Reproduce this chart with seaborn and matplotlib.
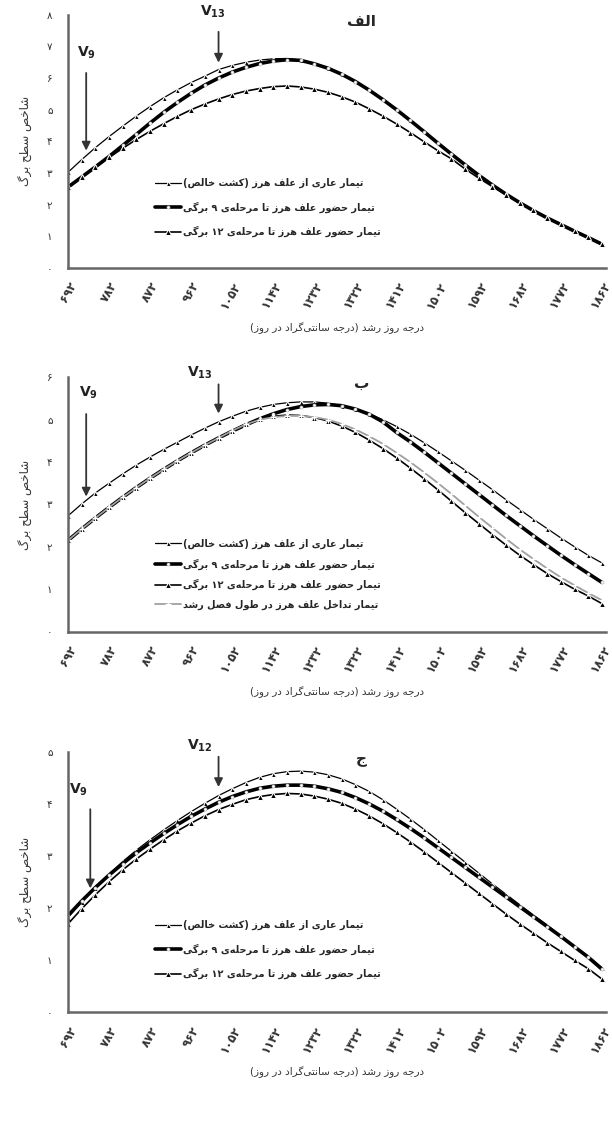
import re
import numpy as np
import pandas as pd
import seaborn as sns
import matplotlib
matplotlib.use('Agg')
import matplotlib.pyplot as plt
from matplotlib.font_manager import FontProperties

sns.set_style('white')
plt.rcParams['font.family'] = ['DejaVu Sans']

# growing degree days (every 30, labels every 90)
gdd = np.arange(692, 1863, 30)

# panel الف
a_free = [3.02, 3.42, 3.80, 4.15, 4.48, 4.80, 5.10, 5.38, 5.63, 5.86, 6.06, 6.27, 6.40, 6.50, 6.57, 6.61,
          6.62, 6.57, 6.47, 6.33, 6.14, 5.91, 5.64, 5.34, 5.02, 4.68, 4.33, 3.97, 3.62, 3.28,
          2.95, 2.64, 2.35, 2.08, 1.83, 1.60, 1.38, 1.17, 0.97, 0.76]
a_v9 = [2.55, 2.87, 3.19, 3.52, 3.87, 4.22, 4.58, 4.92, 5.23, 5.52, 5.78, 6.00, 6.19, 6.34, 6.46, 6.54,
        6.58, 6.56, 6.45, 6.31, 6.12, 5.89, 5.62, 5.32, 5.00, 4.66, 4.31, 3.95, 3.60, 3.26,
        2.93, 2.62, 2.33, 2.06, 1.81, 1.58, 1.37, 1.16, 0.96, 0.75]
a_v12 = [2.55, 2.87, 3.18, 3.49, 3.78, 4.06, 4.32, 4.56, 4.79, 5.00, 5.18, 5.34, 5.48, 5.59, 5.67, 5.73,
         5.75, 5.72, 5.65, 5.55, 5.41, 5.24, 5.03, 4.80, 4.55, 4.28, 3.99, 3.71, 3.45, 3.13,
         2.84, 2.57, 2.31, 2.06, 1.82, 1.59, 1.38, 1.17, 0.97, 0.76]

# panel ب
b_free = [2.73, 3.01, 3.27, 3.50, 3.72, 3.93, 4.12, 4.30, 4.47, 4.64, 4.80, 4.95, 5.08, 5.20, 5.29, 5.36,
          5.40, 5.42, 5.42, 5.39, 5.33, 5.25, 5.14, 5.00, 4.84, 4.66, 4.46, 4.25, 4.03, 3.81,
          3.58, 3.35, 3.11, 2.88, 2.65, 2.43, 2.21, 2.00, 1.80, 1.62]
b_v9 = [2.15, 2.42, 2.68, 2.93, 3.17, 3.40, 3.62, 3.83, 4.03, 4.22, 4.40, 4.57, 4.73, 4.88, 5.02, 5.14,
        5.24, 5.31, 5.35, 5.36, 5.33, 5.25, 5.13, 4.95, 4.70, 4.48, 4.24, 3.99, 3.74, 3.49,
        3.24, 2.99, 2.74, 2.50, 2.26, 2.03, 1.80, 1.58, 1.37, 1.16]
b_v12 = [2.15, 2.42, 2.68, 2.93, 3.17, 3.40, 3.62, 3.83, 4.03, 4.22, 4.40, 4.57, 4.74, 4.90, 5.01, 5.08,
         5.11, 5.10, 5.05, 4.97, 4.85, 4.70, 4.52, 4.32, 4.10, 3.86, 3.61, 3.35, 3.08, 2.81,
         2.55, 2.29, 2.04, 1.80, 1.58, 1.37, 1.18, 1.00, 0.84, 0.66]
b_weedy = [2.15, 2.42, 2.68, 2.93, 3.17, 3.40, 3.62, 3.83, 4.03, 4.22, 4.40, 4.57, 4.74, 4.89, 5.00, 5.06,
           5.09, 5.09, 5.06, 5.00, 4.90, 4.77, 4.61, 4.43, 4.22, 4.00, 3.76, 3.51, 3.25, 2.98,
           2.71, 2.45, 2.19, 1.94, 1.71, 1.49, 1.28, 1.09, 0.91, 0.74]

# panel ج
c_free = [1.82, 2.12, 2.40, 2.66, 2.90, 3.12, 3.32, 3.51, 3.69, 3.86, 4.02, 4.17, 4.30, 4.42, 4.52, 4.59,
          4.63, 4.64, 4.62, 4.57, 4.49, 4.38, 4.25, 4.09, 3.91, 3.72, 3.52, 3.31, 3.10, 2.89,
          2.68, 2.47, 2.27, 2.07, 1.87, 1.68, 1.47, 1.27, 1.08, 0.86]
c_v9 = [1.86, 2.14, 2.40, 2.64, 2.86, 3.07, 3.26, 3.44, 3.61, 3.77, 3.91, 4.04, 4.15, 4.24, 4.31, 4.35,
        4.37, 4.37, 4.35, 4.30, 4.23, 4.13, 4.01, 3.87, 3.71, 3.54, 3.36, 3.17, 2.98, 2.79,
        2.60, 2.41, 2.22, 2.03, 1.84, 1.65, 1.46, 1.26, 1.06, 0.83]
c_v12 = [1.70, 1.99, 2.26, 2.51, 2.74, 2.95, 3.14, 3.32, 3.49, 3.64, 3.78, 3.90, 4.00, 4.09, 4.15, 4.19,
         4.21, 4.20, 4.16, 4.10, 4.02, 3.91, 3.78, 3.63, 3.46, 3.28, 3.09, 2.89, 2.69, 2.49,
         2.29, 2.09, 1.89, 1.70, 1.52, 1.34, 1.17, 1.00, 0.84, 0.64]

lbl_free = 'تیمار عاری از علف هرز (کشت خالص)'
lbl_v9 = 'تیمار حضور علف هرز تا مرحله‌ی ۹ برگی'
lbl_v12 = 'تیمار حضور علف هرز تا مرحله‌ی ۱۲ برگی'
lbl_weedy = 'تیمار تداخل علف هرز در طول فصل رشد'
ylab = 'شاخص سطح برگ'
xlab = 'درجه روز رشد (درجه سانتی‌گراد در روز)'

# --- simple persian shaping (matplotlib has no arabic shaping) ---
FORMS = {
    'ا': ('\uFE8D', '\uFE8E', None, None), 'ب': ('\uFE8F', '\uFE90', '\uFE91', '\uFE92'),
    'پ': ('\uFB56', '\uFB57', '\uFB58', '\uFB59'), 'ت': ('\uFE95', '\uFE96', '\uFE97', '\uFE98'),
    'ج': ('\uFE9D', '\uFE9E', '\uFE9F', '\uFEA0'), 'چ': ('\uFB7A', '\uFB7B', '\uFB7C', '\uFB7D'),
    'ح': ('\uFEA1', '\uFEA2', '\uFEA3', '\uFEA4'), 'خ': ('\uFEA5', '\uFEA6', '\uFEA7', '\uFEA8'),
    'د': ('\uFEA9', '\uFEAA', None, None), 'ر': ('\uFEAD', '\uFEAE', None, None),
    'ز': ('\uFEAF', '\uFEB0', None, None), 'س': ('\uFEB1', '\uFEB2', '\uFEB3', '\uFEB4'),
    'ش': ('\uFEB5', '\uFEB6', '\uFEB7', '\uFEB8'), 'ص': ('\uFEB9', '\uFEBA', '\uFEBB', '\uFEBC'),
    'ض': ('\uFEBD', '\uFEBE', '\uFEBF', '\uFEC0'), 'ط': ('\uFEC1', '\uFEC2', '\uFEC3', '\uFEC4'),
    'ع': ('\uFEC9', '\uFECA', '\uFECB', '\uFECC'), 'ف': ('\uFED1', '\uFED2', '\uFED3', '\uFED4'),
    'ق': ('\uFED5', '\uFED6', '\uFED7', '\uFED8'), 'ک': ('\uFB8E', '\uFB8F', '\uFB90', '\uFB91'),
    'گ': ('\uFB92', '\uFB93', '\uFB94', '\uFB95'), 'ل': ('\uFEDD', '\uFEDE', '\uFEDF', '\uFEE0'),
    'م': ('\uFEE1', '\uFEE2', '\uFEE3', '\uFEE4'), 'ن': ('\uFEE5', '\uFEE6', '\uFEE7', '\uFEE8'),
    'و': ('\uFEED', '\uFEEE', None, None), 'ه': ('\uFEE9', '\uFEEA', '\uFEEB', '\uFEEC'),
    'ی': ('\uFBFC', '\uFBFD', '\uFBFE', '\uFBFF'),
}


def fa(text):
    out = []
    for k, c in enumerate(text):
        if c not in FORMS:
            out.append(c)
            continue
        iso, fin, ini, med = FORMS[c]
        prev = text[k - 1] if k > 0 else ''
        nxt = text[k + 1] if k + 1 < len(text) else ''
        jp = prev in FORMS and FORMS[prev][2] is not None
        jn = nxt in FORMS and ini is not None
        if jp and jn:
            out.append(med)
        elif jp:
            out.append(fin)
        elif jn:
            out.append(ini)
        else:
            out.append(iso)
    s = ''.join(out).replace('\u200c', '')[::-1]
    s = re.sub(r'[\u06F0-\u06F90-9]+', lambda m: m.group(0)[::-1], s)
    return s.translate(str.maketrans('()', ')('))


def fdig(n):
    return str(n).translate(str.maketrans('0123456789', '۰۱۲۳۴۵۶۷۸۹'))


fig = plt.figure(figsize=(6.12, 11.4), dpi=100)
boxes = [[0.111, 0.765, 0.88, 0.222], [0.111, 0.446, 0.88, 0.223], [0.111, 0.112, 0.88, 0.228]]
# title, ymax, series, arrows (x, y text, y start, y tip, x text), subscript, legend top, spacing
panels = [
    ('الف', 8, [(a_free, lbl_free), (a_v9, lbl_v9), (a_v12, lbl_v12)],
     [(732, 6.55, 6.25, 3.62, 732), (1022, 7.85, 7.55, 6.40, 1010)], '13', 0.37, 1.35),
    ('ب', 6, [(b_free, lbl_free), (b_v9, lbl_v9), (b_v12, lbl_v12), (b_weedy, lbl_weedy)],
     [(732, 5.45, 5.2, 3.12, 736), (1022, 5.92, 5.9, 5.08, 980)], '13', 0.38, 0.95),
    ('ج', 5, [(c_free, lbl_free), (c_v9, lbl_v9), (c_v12, lbl_v12)],
     [(741, 4.12, 3.96, 2.33, 715), (1022, 4.97, 4.97, 4.28, 980)], '12', 0.37, 1.35),
]
styles = [
    dict(color='black', lw=0.9, marker='^', ms=3.6),
    dict(color='black', lw=2.6, marker='o', ms=2.2, mfc='white', mec='#bbbbbb', mew=0.5),
    dict(color='black', lw=1.2, marker='^', ms=4.4),
    dict(color='#a0a0a0', lw=1.3, marker='+', ms=4.5, mew=0.9),
]

for box, (title, ymax, series, arrows, vsub, legy, lsp) in zip(boxes, panels):
    ax = fig.add_axes(box)
    for (vals, lbl), st in zip(series, styles):
        sns.lineplot(x=gdd, y=vals, ax=ax, label=fa(lbl), **st)
    ax.set_xlim(692, 1872)
    ax.set_ylim(0, ymax)
    ax.set_xticks(gdd[::3])
    ax.set_xticks(gdd, minor=True)
    ax.set_xticklabels([fdig(v) for v in gdd[::3]], rotation=60, ha='right',
                       rotation_mode='anchor', fontsize=8.5, fontweight='bold', color='#333')
    ax.set_yticks(range(ymax + 1))
    ax.set_yticklabels([fdig(v) for v in range(ymax + 1)], fontsize=7.5, color='#333')
    ax.tick_params(axis='x', which='both', direction='inout', length=5, width=1.2, color='#555', pad=6)
    ax.tick_params(axis='y', direction='out', length=3, width=1.2, color='#555', pad=8)
    for sp in ['top', 'right']:
        ax.spines[sp].set_visible(False)
    for sp in ['left', 'bottom']:
        ax.spines[sp].set_color('#666')
        ax.spines[sp].set_linewidth(1.8)
    ax.set_ylabel(fa(ylab), fontsize=8.5, color='#333', labelpad=10)
    ax.set_xlabel(fa(xlab), fontsize=7.5, color='#333', labelpad=8)
    ax.text(0.545, 0.975, fa(title), transform=ax.transAxes, ha='center', va='center',
            fontsize=11, fontweight='bold', clip_on=False, zorder=5)
    # V9 and V12/13 arrows
    for (x, ytxt, ystart, ytip, xtxt), nm in zip(arrows, ['9', vsub]):
        ax.annotate('', xy=(x, ytip), xytext=(x, ystart),
                    arrowprops=dict(arrowstyle='-|>,head_length=0.5,head_width=0.25',
                                    color='#333', lw=1.3))
        ax.text(xtxt, ytxt, r'V$_{\mathbf{%s}}$' % nm, ha='center', va='bottom',
                fontsize=10, fontweight='bold', color='#222')
    ax.legend(loc='upper left', bbox_to_anchor=(0.155, legy), frameon=False,
              prop=FontProperties(family='DejaVu Sans', size=7, weight='bold'),
              handlelength=2.6, labelspacing=lsp, handletextpad=0.3, borderaxespad=0)

fig.savefig('out.png', dpi=100)
